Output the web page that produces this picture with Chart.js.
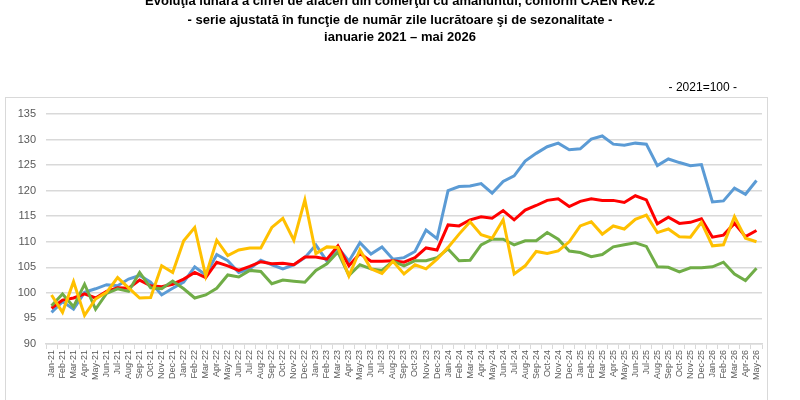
<!DOCTYPE html>
<html>
<head>
<meta charset="utf-8">
<script src="https://cdn.jsdelivr.net/npm/chart.js@4"></script>
<style>
  html, body { margin: 0; padding: 0; background: #fff; }
  #wrap { width: 800px; height: 400px; position: relative; }
</style>
</head>
<body>
<div id="wrap"><canvas id="chart" width="800" height="400"></canvas></div>
<script>
// luni si ani pentru etichete
const months = ['Jan', 'Feb', 'Mar', 'Apr', 'May', 'Jun', 'Jul', 'Aug', 'Sep', 'Oct', 'Nov', 'Dec'];
const years = ['21', '22', '23', '24', '25', '26'];
const lastMonthCount = 5; // ianuarie - mai 2026

const yTicks = [90, 95, 100, 105, 110, 115, 120, 125, 130, 135];

// serii
const blueSeries = [
    96.2, 98.3, 96.8, 100.1, 100.8, 101.6, 101.4, 102.7, 103.4, 102.1,
    99.6, 100.9, 102.1, 105.1, 103.5, 107.5, 106.3, 104.0, 104.7, 106.4,
    105.5, 104.7, 105.5, 106.9, 109.4, 106.2, 108.9, 106.2, 109.8, 107.6,
    109.0, 106.6, 106.9, 108.1, 112.3, 110.6, 120.0, 120.8, 120.9, 121.4,
    119.5, 121.8, 122.9, 125.8, 127.3, 128.6, 129.3, 128.0, 128.2, 130.1,
    130.7, 129.1, 128.9, 129.3, 129.1, 124.9, 126.2, 125.5, 124.9, 125.1,
    117.8, 118.0, 120.5, 119.3, 122.0
];
const redSeries = [
    97.0, 98.6, 99.0, 99.8, 99.0, 100.3, 101.0, 100.9, 102.5, 101.4,
    101.2, 101.7, 102.7, 104.0, 103.0, 106.0, 105.3, 104.4, 105.2, 106.1,
    105.7, 105.8, 105.5, 107.0, 107.0, 106.6, 109.2, 105.3, 107.7, 106.2,
    106.2, 106.3, 106.0, 106.9, 108.8, 108.4, 113.3, 113.1, 114.3, 114.9,
    114.6, 116.1, 114.3, 116.2, 117.1, 118.1, 118.4, 116.9, 117.9, 118.4,
    118.1, 118.1, 117.7, 119.0, 118.2, 113.5, 114.8, 113.6, 113.8, 114.5,
    110.9, 111.3, 113.6, 111.0, 112.2
];
const yellowSeries = [
    99.6, 96.2, 102.2, 95.6, 98.8, 100.1, 103.0, 101.0, 99.0, 99.1,
    105.3, 104.0, 110.2, 112.8, 103.3, 110.3, 107.3, 108.4, 108.8, 108.8,
    112.8, 114.6, 110.3, 118.2, 107.7, 109.0, 108.9, 103.3, 108.4, 104.7,
    103.8, 106.2, 103.7, 105.5, 104.7, 106.6, 108.9, 111.5, 113.9, 111.4,
    110.7, 114.3, 103.7, 105.3, 108.1, 107.7, 108.2, 110.0, 113.1, 113.9,
    111.5, 113.1, 112.5, 114.4, 115.2, 111.8, 112.5, 111.0, 110.9, 113.8,
    109.2, 109.4, 114.9, 110.7, 110.0
];
const greenSeries = [
    97.5, 99.8, 97.3, 101.7, 96.8, 99.9, 100.8, 100.3, 104.0, 101.0,
    100.8, 102.3, 100.8, 99.0, 99.6, 100.9, 103.5, 103.1, 104.4, 104.2,
    101.8, 102.5, 102.3, 102.1, 104.4, 105.7, 108.0, 103.4, 105.5, 104.7,
    104.4, 106.2, 105.3, 106.3, 106.3, 106.9, 108.6, 106.3, 106.4, 109.4,
    110.5, 110.5, 109.4, 110.2, 110.2, 111.8, 110.5, 108.2, 107.9, 107.1,
    107.5, 109.0, 109.4, 109.8, 109.1, 105.1, 105.0, 104.1, 104.9, 104.9,
    105.1, 106.0, 103.7, 102.4, 104.8
];

// categorii: Jan-21 ... May-26
const categories = [];
years.forEach((yr, yi) => {
    const n = yi === years.length - 1 ? lastMonthCount : 12;
    for (let m = 0; m < n; m++) categories.push(`${months[m]}-${yr}`);
});

const titleLines = [
    'Evoluţia lunară a cifrei de afaceri din comerţul cu amănuntul, conform CAEN Rev.2',
    '- serie ajustată în funcţie de număr zile lucrătoare şi de sezonalitate -',
    'ianuarie 2021 – mai 2026'
];
const baseNote = '- 2021=100 -';

// titlu, nota si chenarul graficului
const decorPlugin = {
    id: 'decor',
    beforeDraw(chart) {
        const ctx = chart.ctx;
        const area = chart.chartArea;
        ctx.save();
        ctx.fillStyle = '#fff';
        ctx.fillRect(0, 0, chart.width, chart.height);
        ctx.strokeStyle = '#d9d9d9';
        ctx.lineWidth = 1;
        ctx.strokeRect(area.left - 40.5, area.top - 16.5, area.right - area.left + 46, chart.height);
        ctx.restore();
    },
    afterDraw(chart) {
        const ctx = chart.ctx;
        const area = chart.chartArea;
        ctx.save();
        ctx.fillStyle = '#000';
        ctx.textAlign = 'center';
        ctx.textBaseline = 'middle';
        ctx.font = 'bold 13px "Liberation Sans Narrow", "Liberation Sans", sans-serif';
        ctx.fillText(titleLines[0], 400, 1);
        ctx.fillText(titleLines[1], 400, 20);
        ctx.fillText(titleLines[2], 400, 37);
        ctx.font = '12px "Liberation Sans Narrow", "Liberation Sans", sans-serif';
        ctx.textAlign = 'right';
        ctx.fillText(baseNote, area.right - 25, 88);
        ctx.restore();
    }
};

const ctx = document.getElementById('chart').getContext('2d');

new Chart(ctx, {
    type: 'line',
    data: {
        labels: categories,
        datasets: [
            { label: 'albastru', data: blueSeries, borderColor: '#5b9bd5', order: 4 },
            { label: 'rosu', data: redSeries, borderColor: '#ff0000', order: 3 },
            { label: 'verde', data: greenSeries, borderColor: '#70ad47', order: 2 },
            { label: 'galben', data: yellowSeries, borderColor: '#ffc000', order: 1 }
        ].map(ds => Object.assign(ds, {
            borderWidth: 3,
            pointRadius: 0,
            tension: 0,
            fill: false
        }))
    },
    options: {
        responsive: false,
        animation: false,
        devicePixelRatio: 1,
        layout: {
            padding: { top: 114, right: 38, left: 0, bottom: 0 }
        },
        plugins: {
            legend: { display: false },
            title: { display: false },
            tooltip: { enabled: false }
        },
        scales: {
            x: {
                offset: true,
                afterFit: s => { s.height = 56; },
                grid: {
                    offset: true,
                    drawOnChartArea: false,
                    drawTicks: true,
                    tickLength: 5,
                    color: '#d9d9d9'
                },
                border: { display: true, color: '#d9d9d9', width: 1.5 },
                ticks: {
                    autoSkip: false,
                    minRotation: 90,
                    maxRotation: 90,
                    padding: 1,
                    color: '#595959',
                    font: { family: '"Liberation Sans", sans-serif', size: 9 }
                }
            },
            y: {
                min: 90,
                max: 135,
                afterFit: s => { s.width = 46; },
                afterBuildTicks: s => { s.ticks = yTicks.map(v => ({ value: v })); },
                grid: {
                    color: '#d9d9d9',
                    lineWidth: 1.5,
                    drawTicks: false
                },
                border: { display: false },
                ticks: {
                    padding: 10,
                    color: '#595959',
                    font: { family: '"Liberation Sans", sans-serif', size: 11 }
                }
            }
        }
    },
    plugins: [decorPlugin]
});
</script>
</body>
</html>
